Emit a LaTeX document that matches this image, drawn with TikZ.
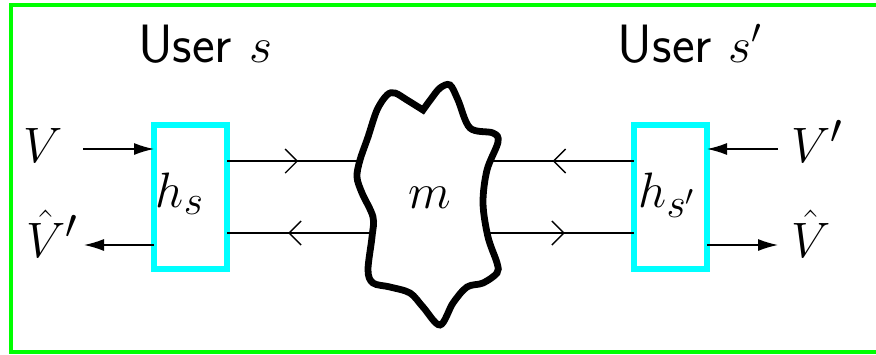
\documentclass[tikz,border=0pt]{standalone}
\usetikzlibrary{arrows.meta,decorations.markings}
\definecolor{framegreen}{rgb}{0,1,0}
\definecolor{boxcyan}{rgb}{0,1,1}
\begin{document}
\begin{tikzpicture}[x=0.5pt,y=-0.5pt,
  txt/.style={inner sep=0pt, outer sep=0pt, font=\fontsize{28}{33}\selectfont},
  hbox/.style={draw=boxcyan, line width=3.25pt, minimum width=36.5pt, minimum height=72pt, inner sep=0pt, outer sep=0pt},
  thinline/.style={line width=0.7pt},
  endarrow/.style={thinline, -{Latex[length=10pt,width=6pt]}},
  barb/.tip={Straight Barb[length=6pt,width=12pt]},
  chanline/.style n args={2}{thinline, postaction={decorate}, decoration={markings,
     mark=at position #1 with {\arrow{barb}},
     mark=at position #2 with {\arrowreversed{barb}}}},
  chanlinerev/.style n args={2}{thinline, postaction={decorate}, decoration={markings,
     mark=at position #1 with {\arrowreversed{barb}},
     mark=at position #2 with {\arrow{barb}}}},
  cloud/.style={draw=black, fill=white, line width=3.4pt, line join=miter},
  usertxt/.style={txt, font=\fontsize{27}{32}\selectfont\sffamily}
]
\useasboundingbox (0,0) rectangle (876,354);
\begin{scope}
\clip (0,0) rectangle (876,354);
\draw[framegreen, line width=2.25pt] (11,5) rectangle (890,352);
\end{scope}

% boxes
\node[hbox] (hs) at (190.5,197) {};
\node[hbox] (hsp) at (670.5,197) {};

% channel lines
\coordinate (hsT) at (227,161);
\coordinate (hsB) at (227,233);
\coordinate (hspT) at (634,161);
\coordinate (hspB) at (634,233);
\draw[chanline={0.175}{0.80}] (hsT) -- (hspT);
\draw[chanlinerev={0.15}{0.83}] (hsB) -- (hspB);

% cloud
\draw[cloud] plot[smooth, tension=0.55] coordinates {
 (423,110) (431,99) (440,88) (450,85) (458,100) (470,128) (493,133) (498,142)
 (487,170) (483,203) (488,237) (497,263) (497,273) (483,283) (467,287) (453,303)
 (440,325) (423,307) (410,293) (390,287) (373,283) (368,270) (372,237) (373,217)
 (362,193) (357,177) (360,160) (368,137) (377,110) (387,95) (395,93) (407,100) (423,110)} -- cycle;
\node[txt, anchor=base] (m) at (430,208) {$m$};

% labels in boxes
\node[txt, anchor=base] (hsl) at (180,207) {$h_s$};
\node[txt, anchor=base] (hspl) at (667,207) {$h_{s'}$};

% user titles
\node[usertxt, anchor=base] (us) at (205,62) {User $s$};
\node[usertxt, anchor=base] (usp) at (690,62) {User $s'$};

% outer labels
\node[txt, anchor=base west] (V) at (24,162) {$V$};
\node[txt, anchor=base west] (Vhp) at (26,257) {$\hat V'$};
\node[txt, anchor=base west] (Vp) at (791,162) {$V'$};
\node[txt, anchor=base west] (Vh) at (791,257) {$\hat V$};

\coordinate (Vs) at (83,149);
\coordinate (Vhpe) at (84,245);
\coordinate (Vps) at (778,149);
\coordinate (Vhe) at (778,245);
\draw[endarrow] (Vs) -- (Vs -| hs.west);
\draw[endarrow] (Vhpe -| hs.west) -- (Vhpe);
\draw[endarrow] (Vps) -- (Vps -| hsp.east);
\draw[endarrow] (Vhe -| hsp.east) -- (Vhe);
\end{tikzpicture}
\end{document}
